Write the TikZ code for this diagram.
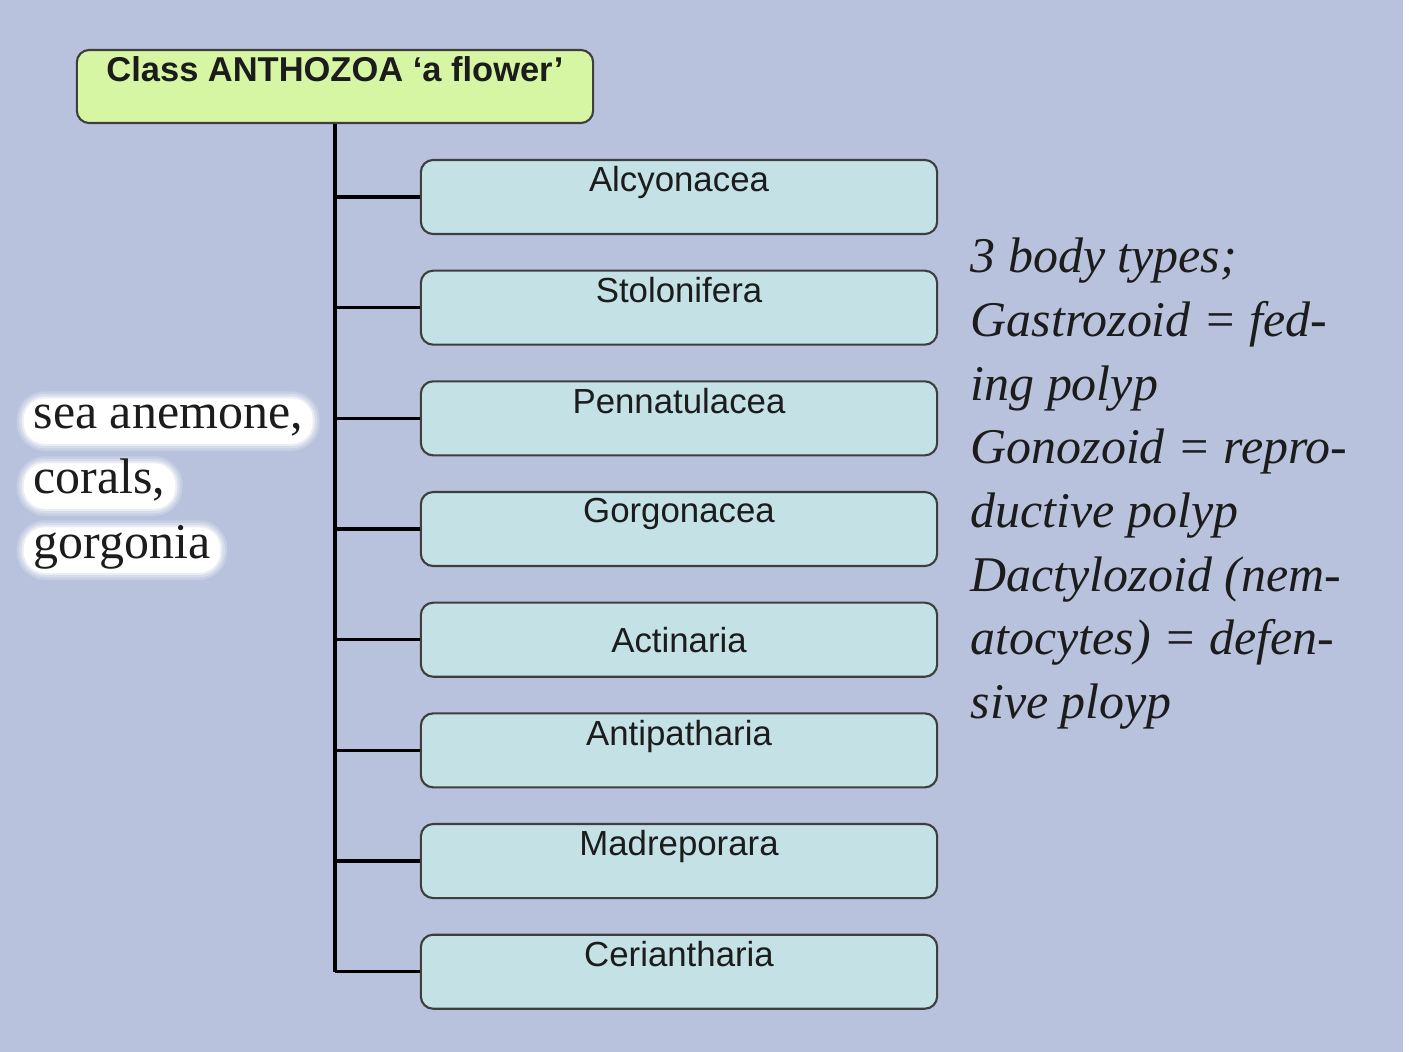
\documentclass[tikz,border=0pt]{standalone}
\usepackage{fontspec}
\setmainfont{Liberation Serif}
\setsansfont{Liberation Sans}
\usetikzlibrary{positioning}

\definecolor{slide}{RGB}{184,194,220}
\definecolor{headfill}{RGB}{214,246,163}
\definecolor{orderfill}{RGB}{196,226,230}
\definecolor{ink}{RGB}{28,28,28}

\tikzset{
  head/.style={draw=ink!85, fill=headfill, rounded corners=3.5pt, line width=0.6pt,
    minimum width=5.16cm, minimum height=0.73cm, inner sep=0pt},
  order/.style={head, fill=orderfill, minimum height=0.74cm},
  boxtext/.style={anchor=north, inner sep=0pt, yshift=-0.07cm, text=ink,
    font=\sffamily\fontsize{9.9}{12}\selectfont},
  trunk/.style={line width=1.2pt, black},
  twig/.style={line width=1pt, black},
  note/.style={anchor=base west, inner sep=0pt, text=ink,
    font=\itshape\fontsize{14.2}{18}\selectfont},
  glow/.style={anchor=base west, fill=white, rounded corners=6pt, text=ink,
    inner xsep=0.1cm, inner ysep=0.06cm, text height=0.7em, text depth=0.25em,
    font=\fontsize{14.2}{18}\selectfont,
    preaction={draw=white, line width=4pt, draw opacity=.2, fill opacity=0},
    preaction={draw=white, line width=2.6pt, draw opacity=.3, fill opacity=0},
    preaction={draw=white, line width=1.2pt, draw opacity=.5, fill opacity=0}}
}

\begin{document}
\begin{tikzpicture}[x=0.01cm, y=-0.01cm]
  \fill[white] (0,0) rectangle (1409,1052);
  \fill[slide] (0,0) rectangle (1403,1052);
  \useasboundingbox (0,0) rectangle (1409,1052);
  %
  \node[head, label={[boxtext, font=\sffamily\bfseries\fontsize{9.8}{12}\selectfont]north:Class ANTHOZOA ‘a flower’}] (cls) at (335,86.5) {};
  %
  \node[order, label={[boxtext]north:Alcyonacea}] (o1) at (679,197) {};
  \node[order, label={[boxtext]north:Stolonifera}, below=0.345cm of o1] (o2) {};
  \node[order, label={[boxtext]north:Pennatulacea}, below=0.345cm of o2] (o3) {};
  \node[order, label={[boxtext]north:Gorgonacea}, below=0.345cm of o3] (o4) {};
  \node[order, font=\sffamily\fontsize{9.9}{12}\selectfont, text=ink, below=0.345cm of o4] (o5) {Actinaria};
  \node[order, label={[boxtext]north:Antipatharia}, below=0.345cm of o5] (o6) {};
  \node[order, label={[boxtext]north:Madreporara}, below=0.345cm of o6] (o7) {};
  \node[order, label={[boxtext]north:Ceriantharia}, below=0.345cm of o7] (o8) {};
  %
  \draw[trunk] (cls.south) -- (cls.south |- o8.west);
  \foreach \i in {1,...,8}
    \draw[twig] (cls.south |- o\i.west) -- (o\i.west);
  %
  \node[glow] (kind1) at (23,429) {sea anemone,};
  \node[glow] (kind2) at (23,494) {corals,};
  \node[glow] (kind3) at (23,558) {gorgonia};
  %
  \foreach \txt [count=\i] in {{3 body types;}, {Gastrozoid = fed-}, {ing polyp},
      {Gonozoid = repro-}, {ductive polyp}, {Dactylozoid (nem-},
      {atocytes) = defen-}, {sive ployp}}
    \node[note] (body\i) at (970,{273+63.6*(\i-1)}) {\txt};
\end{tikzpicture}
\end{document}
